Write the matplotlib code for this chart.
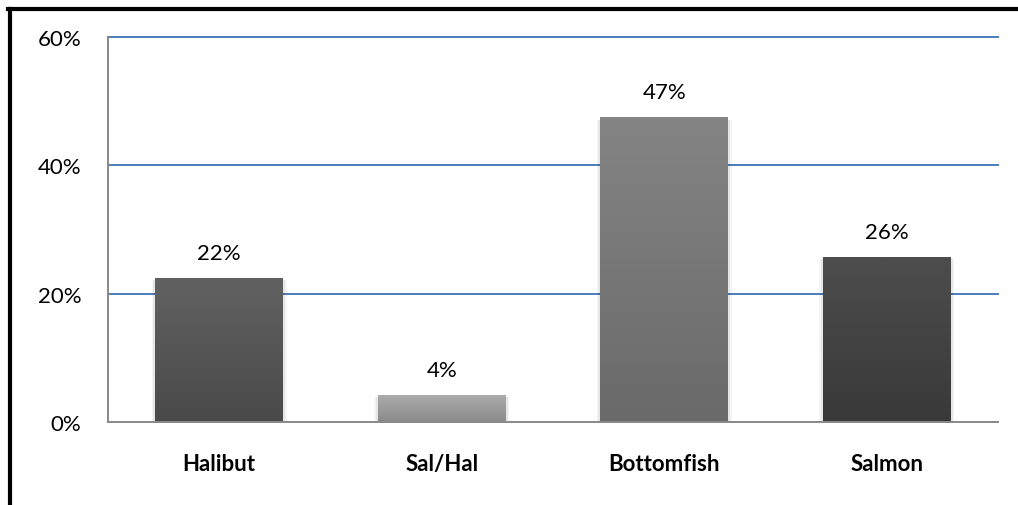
import numpy as np
import matplotlib.pyplot as plt
from matplotlib.colors import to_rgb
from matplotlib.lines import Line2D

# data
categories = ['Halibut', 'Sal/Hal', 'Bottomfish', 'Salmon']
shares = [22.4, 4.2, 47.4, 25.7]
labels = ['22%', '4%', '47%', '26%']
# (top colour, bottom colour) for each bar's vertical gradient
bar_colors = [('#616161', '#4a4a4a'), ('#ababab', '#8a8a8a'),
              ('#848484', '#6a6a6a'), ('#4d4d4d', '#393939')]

plt.rcParams['font.family'] = ['Lato', 'DejaVu Sans']

fig = plt.figure(figsize=(10.18, 5.06), dpi=100)
ax = fig.add_axes([108 / 1018, 83 / 506, 890 / 1018, 385 / 506])

x = np.arange(len(categories))
width = 0.575
bars = ax.bar(x, shares, width=width, color='none', zorder=3)

for b, (top, bot) in zip(bars, bar_colors):
    x0, y0 = b.get_x(), b.get_y()
    w, h = b.get_width(), b.get_height()
    # soft shadow round the bar
    for grow, a in [(0.03, 0.04), (0.018, 0.06)]:
        ax.bar(x0 + w / 2, h + 0.6, width=w + grow, bottom=-0.9,
               color='#000000', alpha=a, zorder=2.5, linewidth=0)
    c0 = np.array(to_rgb(bot))
    c1 = np.array(to_rgb(top))
    grad = np.linspace(0, 1, 64)[:, None, None] * (c1 - c0) + c0
    ax.imshow(grad, extent=(x0, x0 + w, y0, y0 + h), origin='lower',
              aspect='auto', zorder=3, interpolation='bilinear')

for xi, v, lab in zip(x, shares, labels):
    ax.text(xi, v + 2.4, lab, ha='center', va='bottom', fontsize=16,
            color='#000000', zorder=4)

ax.set_xlim(-0.5, len(categories) - 0.5)
ax.set_ylim(0, 60)
ax.set_yticks([0, 20, 40, 60])
ax.set_yticklabels(['0%', '20%', '40%', '60%'], fontsize=16)
ax.set_xticks(x)
ax.set_xticklabels(categories, fontsize=16, fontweight='bold')
ax.tick_params(axis='both', length=0)
ax.tick_params(axis='x', pad=22)
ax.tick_params(axis='y', pad=19)

for g in [20, 40, 60]:
    ax.axhline(g, color='#4a7ebb', linewidth=1.4, zorder=1, clip_on=False)

for s in ['top', 'right']:
    ax.spines[s].set_visible(False)
for s in ['left', 'bottom']:
    ax.spines[s].set_color('#888888')
    ax.spines[s].set_linewidth(1.4)
    ax.spines[s].set_zorder(4)

# outer frame (only left and top edges visible in the crop)
fig.add_artist(Line2D([9.5 / 1018, 9.5 / 1018], [0, 1 - 9.5 / 506],
                      transform=fig.transFigure, color='black', linewidth=3))
fig.add_artist(Line2D([8 / 1018, 1], [1 - 9.5 / 506, 1 - 9.5 / 506],
                      transform=fig.transFigure, color='black', linewidth=3))

fig.savefig('out.png', dpi=100)
